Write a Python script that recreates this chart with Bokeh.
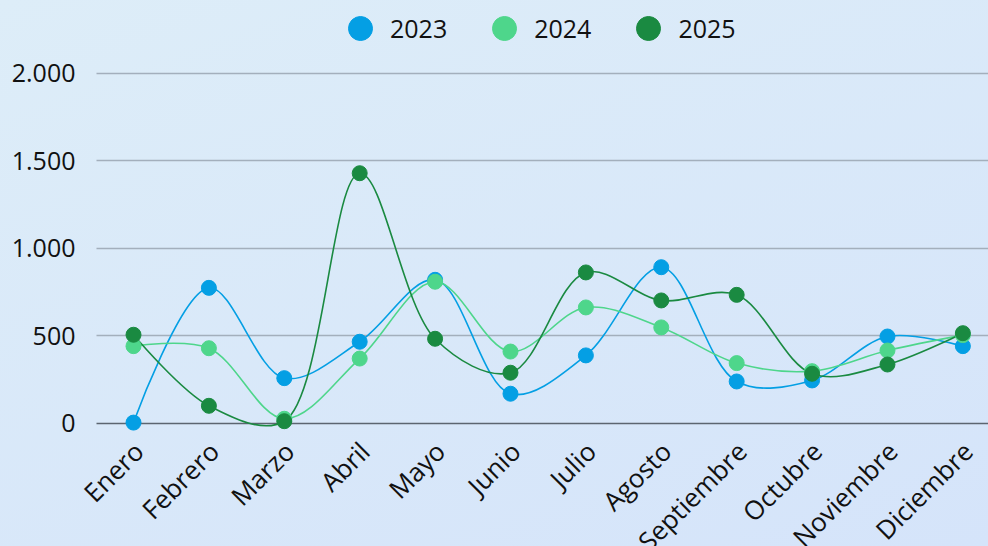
import math
from bokeh.plotting import figure
from bokeh.core.properties import value
from bokeh.models import (Range1d, FixedTicker, Legend, LegendItem, Grid,
                          LabelSet, ColumnDataSource)
from bokeh.embed import file_html
from bokeh.resources import INLINE

# ---------------- data ----------------
months = ["Enero", "Febrero", "Marzo", "Abril", "Mayo", "Junio",
          "Julio", "Agosto", "Septiembre", "Octubre", "Noviembre", "Diciembre"]
years = ["2023", "2024", "2025"]
v2023 = [5, 775, 259, 467, 821, 170, 389, 893, 240, 246, 497, 442]
v2024 = [442, 430, 27, 371, 810, 411, 663, 549, 345, 299, 417, 505]
v2025 = [507, 101, 13, 1430, 484, 290, 863, 703, 735, 284, 337, 516]
series = [v2023, v2024, v2025]
colors = ["#049fe4", "#4ed68b", "#1a8a41"]
y_ticks = [0, 500, 1000, 1500, 2000]
y_tick_labels = ["0", "500", "1.000", "1.500", "2.000"]

FONT = "Open Sans"
W, H = 988, 546
LEFT = 80
# frame covers the whole height; the data window 0..2000 sits inside it
X0, X1 = -0.703, 11.34
XG = -0.49          # where grid lines start
Y0, Y1 = -703, 2417

p = figure(width=W, height=H, output_backend="svg", toolbar_location=None,
           x_range=Range1d(X0, X1), y_range=Range1d(Y0, Y1))
p.min_border_left = LEFT
p.min_border_right = 0
p.min_border_top = 0
p.min_border_bottom = 0
p.background_fill_alpha = 0
p.border_fill_alpha = 0
p.outline_line_color = None

# pixel scale (used for centripetal Catmull-Rom weights)
SX = (W - LEFT) / (X1 - X0)
SY = H / (Y1 - Y0)


def catmull_rom(ys, alpha=0.5):
    xs = list(range(len(ys)))
    n = len(xs)

    def dist(i, j):
        return math.hypot((xs[j] - xs[i]) * SX, (ys[j] - ys[i]) * SY)

    out = dict(x0=[], y0=[], x1=[], y1=[], cx0=[], cy0=[], cx1=[], cy1=[])
    for i in range(n - 1):
        p1 = (xs[i], ys[i])
        p2 = (xs[i + 1], ys[i + 1])
        l12 = dist(i, i + 1)
        l12a, l12_2a = l12 ** alpha, l12 ** (2 * alpha)
        c1 = p1
        if i > 0:
            l01 = dist(i - 1, i)
            l01a, l01_2a = l01 ** alpha, l01 ** (2 * alpha)
            a = 2 * l01_2a + 3 * l01a * l12a + l12_2a
            nn = 3 * l01a * (l01a + l12a)
            p0 = (xs[i - 1], ys[i - 1])
            c1 = tuple((p1[k] * a - p0[k] * l12_2a + p2[k] * l01_2a) / nn for k in range(2))
        c2 = p2
        if i + 2 < n:
            l23 = dist(i + 1, i + 2)
            l23a, l23_2a = l23 ** alpha, l23 ** (2 * alpha)
            a = 2 * l23_2a + 3 * l23a * l12a + l12_2a
            m = 3 * l23a * (l23a + l12a)
            p3 = (xs[i + 2], ys[i + 2])
            c2 = tuple((p2[k] * a + p1[k] * l23_2a - p3[k] * l12_2a) / m for k in range(2))
        out["x0"].append(p1[0]); out["y0"].append(p1[1])
        out["x1"].append(p2[0]); out["y1"].append(p2[1])
        out["cx0"].append(c1[0]); out["cy0"].append(c1[1])
        out["cx1"].append(c2[0]); out["cy1"].append(c2[1])
    return out


# grid + zero line
p.xgrid.grid_line_color = None
p.ygrid.grid_line_color = "#a3afbc"
p.ygrid.grid_line_width = 1.3
p.ygrid.ticker = FixedTicker(ticks=y_ticks[1:])
zero = Grid(dimension=1, ticker=FixedTicker(ticks=[0]),
            grid_line_color="#5c6570", grid_line_width=1.5)
p.add_layout(zero, "center")
for g in (p.ygrid[0], zero):
    try:
        g.cross_bounds = (XG, X1)
    except Exception:
        pass

for ys, c in zip(series, colors):
    seg = catmull_rom(ys)
    p.bezier(x0=seg["x0"], y0=seg["y0"], x1=seg["x1"], y1=seg["y1"],
             cx0=seg["cx0"], cy0=seg["cy0"], cx1=seg["cx1"], cy1=seg["cy1"],
             line_color=c, line_width=1.6)

items = []
for ys, c, yr in zip(series, colors, years):
    r = p.scatter(list(range(len(ys))), ys, size=15, fill_color=c, line_color=c)
    items.append(LegendItem(label=yr, renderers=[r]))

legend = Legend(items=items, orientation="horizontal", location=(250, 488),
                glyph_width=60, glyph_height=60, label_standoff=0, spacing=27,
                padding=0, margin=0, border_line_alpha=0, background_fill_alpha=0,
                label_text_font=FONT, label_text_font_size="25px",
                label_text_color="#111111")
p.add_layout(legend, "center")

# x axis: labels drawn as rotated text below the zero line
p.xaxis.visible = False
xsrc = ColumnDataSource(dict(x=list(range(len(months))), y=[0] * len(months), text=months))
p.add_layout(LabelSet(x="x", y="y", text="text", source=xsrc, angle=math.pi / 4,
                      x_offset=5, y_offset=-23, text_align="right",
                      text_baseline="middle", text_font=value(FONT),
                      text_font_size="26px", text_color="#111111"))

p.yaxis.ticker = FixedTicker(ticks=y_ticks)
p.yaxis.major_label_overrides = {t: l for t, l in zip(y_ticks, y_tick_labels)}
p.yaxis.major_label_text_font = FONT
p.yaxis.major_label_text_font_size = "25px"
p.yaxis.major_label_text_color = "#111111"
p.yaxis.major_label_standoff = 5
p.yaxis.major_tick_out = 0
p.yaxis.major_tick_in = 0
p.yaxis.axis_line_color = None
p.yaxis.major_tick_line_color = None
p.yaxis.minor_tick_line_color = None

html = file_html(p, INLINE)
html = html.replace("<head>", "<head><style>html,body{background:linear-gradient(160deg,#ddedf8 0%,#d5e4fa 100%) fixed;}</style>", 1)
open("out.html", "w").write(html)
